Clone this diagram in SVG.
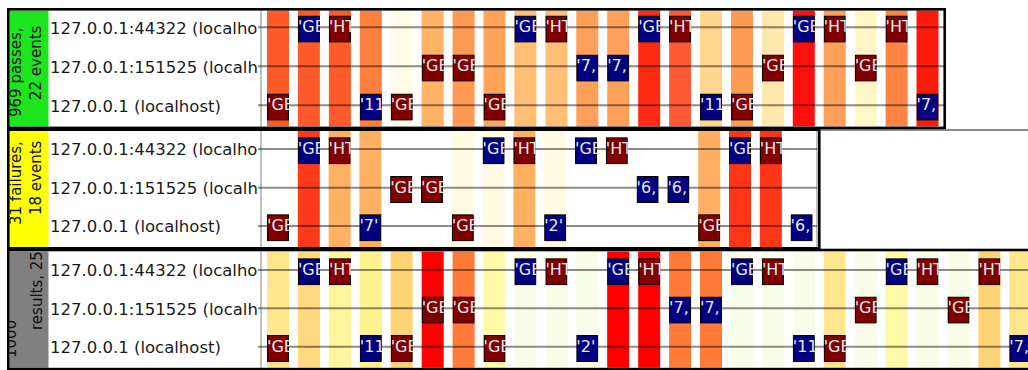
<svg xmlns="http://www.w3.org/2000/svg" xmlns:xlink="http://www.w3.org/1999/xlink" width="1028" height="370" viewBox="0 0 1028 370">
<style>
.frame{fill:none;stroke:#000;stroke-width:2.6}
.axis{stroke:#aaa;stroke-width:1.5}
.lane{stroke:#000;stroke-opacity:.45;stroke-width:2}
.host{font-family:"DejaVu Sans",sans-serif;font-size:16.5px;fill:#1a1a1a}
.side{font-family:"DejaVu Sans",sans-serif;font-size:15px;fill:#111}
.bt{font-family:"DejaVu Sans",sans-serif;font-size:16px;fill:#e8e8ee}
.r{fill:#800000;stroke:#000;stroke-width:1.2}
.b{fill:#000080;stroke:#000;stroke-width:1.2}
</style>
<defs>
<symbol id="ge-r" viewBox="0 0 22 27" width="22" height="27"><rect class="r" x="0.5" y="0.5" width="21" height="26"/><text class="bt" x="0" y="16.6">'GE</text></symbol>
<symbol id="ge-b" viewBox="0 0 22 27" width="22" height="27"><rect class="b" x="0.5" y="0.5" width="21" height="26"/><text class="bt" x="0" y="16.6">'GE</text></symbol>
<symbol id="ht-r" viewBox="0 0 22 27" width="22" height="27"><rect class="r" x="0.5" y="0.5" width="21" height="26"/><text class="bt" x="0" y="16.6">'HT</text></symbol>
<symbol id="n11-b" viewBox="0 0 22 27" width="22" height="27"><rect class="b" x="0.5" y="0.5" width="21" height="26"/><text class="bt" x="0" y="16.6">'11</text></symbol>
<symbol id="n7c-b" viewBox="0 0 22 27" width="22" height="27"><rect class="b" x="0.5" y="0.5" width="21" height="26"/><text class="bt" x="0" y="16.6">'7,</text></symbol>
<symbol id="n7q-b" viewBox="0 0 22 27" width="22" height="27"><rect class="b" x="0.5" y="0.5" width="21" height="26"/><text class="bt" x="0" y="16.6">'7'</text></symbol>
<symbol id="n2-b" viewBox="0 0 22 27" width="22" height="27"><rect class="b" x="0.5" y="0.5" width="21" height="26"/><text class="bt" x="0" y="16.6">'2'</text></symbol>
<symbol id="n6c-b" viewBox="0 0 22 27" width="22" height="27"><rect class="b" x="0.5" y="0.5" width="21" height="26"/><text class="bt" x="0" y="16.6">'6,</text></symbol>
<clipPath id="cb1"><rect x="9.5" y="10.5" width="39" height="116"/></clipPath>
<clipPath id="cb2"><rect x="9.5" y="131" width="39" height="116"/></clipPath>
<clipPath id="cb3"><rect x="9.5" y="251.5" width="39" height="116.3"/></clipPath>
<clipPath id="chost"><rect x="48.5" y="0" width="209.5" height="370"/></clipPath>
</defs>
<rect width="1028" height="370" fill="#fff"/>

<!-- Panel 1 -->
<g id="panel1">
<rect x="9.5" y="10.5" width="39" height="116" fill="#1ee61e"/>
<g clip-path="url(#cb1)" class="side">
<text transform="translate(20.5,117) rotate(-90)">969 passes,</text>
<text transform="translate(41,100) rotate(-90)">22 events</text>
</g>
<g id="p1-stripes">
<rect x="267.0" y="10.5" width="22" height="116" fill="#ff5a2a"/>
<rect x="297.9" y="10.5" width="22" height="116" fill="#ff5a2a"/>
<rect x="328.9" y="10.5" width="22" height="116" fill="#ff5a2a"/>
<rect x="359.8" y="10.5" width="22" height="116" fill="#ff7f3f"/>
<rect x="390.7" y="10.5" width="22" height="116" fill="#fffde8"/>
<rect x="421.7" y="10.5" width="22" height="116" fill="#ffb366"/>
<rect x="452.6" y="10.5" width="22" height="116" fill="#ff9a55"/>
<rect x="483.5" y="10.5" width="22" height="116" fill="#ffa458"/>
<rect x="514.4" y="10.5" width="22" height="116" fill="#ffbf75"/>
<rect x="545.4" y="10.5" width="22" height="116" fill="#ffbf75"/>
<rect x="576.3" y="10.5" width="22" height="116" fill="#ffa05a"/>
<rect x="607.2" y="10.5" width="22" height="116" fill="#ffa05a"/>
<rect x="638.2" y="10.5" width="22" height="116" fill="#ff2a12"/>
<rect x="669.1" y="10.5" width="22" height="116" fill="#ff5a35"/>
<rect x="700.0" y="10.5" width="22" height="116" fill="#ffd68c"/>
<rect x="731.0" y="10.5" width="22" height="116" fill="#ff9a55"/>
<rect x="761.9" y="10.5" width="22" height="116" fill="#ffe8ae"/>
<rect x="792.8" y="10.5" width="22" height="116" fill="#ff0f0f"/>
<rect x="823.7" y="10.5" width="22" height="116" fill="#ffa05a"/>
<rect x="854.7" y="10.5" width="22" height="116" fill="#fff6c8"/>
<rect x="885.6" y="10.5" width="22" height="116" fill="#ff8444"/>
<rect x="916.5" y="10.5" width="22" height="116" fill="#ff1a0a"/>
</g>
</g>

<!-- Panel 2 -->
<g id="panel2">
<rect x="9.5" y="131" width="39" height="116" fill="#ffff00"/>
<g clip-path="url(#cb2)" class="side">
<text transform="translate(20.5,225) rotate(-90)">31 failures,</text>
<text transform="translate(41,215) rotate(-90)">18 events</text>
</g>
<g id="p2-stripes">
<rect x="297.8" y="131" width="22" height="116" fill="#ff3a1a"/>
<rect x="328.6" y="131" width="22" height="116" fill="#ffb060"/>
<rect x="359.4" y="131" width="22" height="116" fill="#ffb060"/>
<rect x="451.8" y="131" width="22" height="116" fill="#fffbe3"/>
<rect x="482.6" y="131" width="22" height="116" fill="#fffbe3"/>
<rect x="513.4" y="131" width="22" height="116" fill="#ffb060"/>
<rect x="544.2" y="131" width="22" height="116" fill="#fffbe3"/>
<rect x="698.2" y="131" width="22" height="116" fill="#ffae62"/>
<rect x="729.0" y="131" width="22" height="116" fill="#ff3518"/>
<rect x="759.8" y="131" width="22" height="116" fill="#ff3518"/>
</g>
</g>

<!-- Panel 3 -->
<g id="panel3">
<rect x="9.5" y="251.5" width="39" height="116.3" fill="#808080"/>
<g clip-path="url(#cb3)" class="side">
<text transform="translate(15.5,358) rotate(-90)">1000</text>
<text transform="translate(41.5,330) rotate(-90)">results, 25</text>
</g>
<g id="p3-stripes">
<rect x="267.0" y="251.5" width="22" height="116.3" fill="#ffe58c"/>
<rect x="297.9" y="251.5" width="22" height="116.3" fill="#ffd880"/>
<rect x="328.9" y="251.5" width="22" height="116.3" fill="#fff59c"/>
<rect x="359.8" y="251.5" width="22" height="116.3" fill="#fff28f"/>
<rect x="390.7" y="251.5" width="22" height="116.3" fill="#ffd474"/>
<rect x="421.7" y="251.5" width="22" height="116.3" fill="#ff0000"/>
<rect x="452.6" y="251.5" width="22" height="116.3" fill="#ff7a38"/>
<rect x="483.5" y="251.5" width="22" height="116.3" fill="#fff9a8"/>
<rect x="514.4" y="251.5" width="22" height="116.3" fill="#f7fde6"/>
<rect x="545.4" y="251.5" width="22" height="116.3" fill="#f7fde6"/>
<rect x="576.3" y="251.5" width="22" height="116.3" fill="#f7fde6"/>
<rect x="607.2" y="251.5" width="22" height="116.3" fill="#ff0000"/>
<rect x="638.2" y="251.5" width="22" height="116.3" fill="#ff0000"/>
<rect x="669.1" y="251.5" width="22" height="116.3" fill="#ff7a38"/>
<rect x="700.0" y="251.5" width="22" height="116.3" fill="#ff7a38"/>
<rect x="731.0" y="251.5" width="22" height="116.3" fill="#f7fde6"/>
<rect x="761.9" y="251.5" width="22" height="116.3" fill="#f7fde6"/>
<rect x="792.8" y="251.5" width="22" height="116.3" fill="#f7fde6"/>
<rect x="823.7" y="251.5" width="22" height="116.3" fill="#ffe58c"/>
<rect x="854.7" y="251.5" width="22" height="116.3" fill="#f7fde6"/>
<rect x="885.6" y="251.5" width="22" height="116.3" fill="#fff8a4"/>
<rect x="916.5" y="251.5" width="22" height="116.3" fill="#f7fde6"/>
<rect x="947.5" y="251.5" width="22" height="116.3" fill="#f7fde6"/>
<rect x="978.4" y="251.5" width="22" height="116.3" fill="#ffd474"/>
<rect x="1009.3" y="251.5" width="22" height="116.3" fill="#ffe58c"/>
</g>
</g>

<!-- host labels -->
<g id="hosts" class="host" clip-path="url(#chost)">
<text x="50" y="33.5">127.0.0.1:44322 (localhost)</text>
<text x="50" y="72.5">127.0.0.1:151525 (localhost)</text>
<text x="50" y="111.5">127.0.0.1 (localhost)</text>
<text x="50" y="155.2">127.0.0.1:44322 (localhost)</text>
<text x="50" y="193.9">127.0.0.1:151525 (localhost)</text>
<text x="50" y="232.2">127.0.0.1 (localhost)</text>
<text x="50" y="276.2">127.0.0.1:44322 (localhost)</text>
<text x="50" y="314.5">127.0.0.1:151525 (localhost)</text>
<text x="50" y="352.9">127.0.0.1 (localhost)</text>
</g>

<!-- axes and lanes -->
<g id="connectors">
<line class="axis" x1="261" y1="10.5" x2="261" y2="126.5"/>
<line class="axis" x1="261" y1="131" x2="261" y2="247"/>
<line class="axis" x1="261" y1="251.5" x2="261" y2="367.8"/>
<line class="axis" x1="817" y1="131" x2="817" y2="247"/>
<line class="lane" x1="258" y1="27.3" x2="944" y2="27.3"/>
<line class="lane" x1="258" y1="66.3" x2="944" y2="66.3"/>
<line class="lane" x1="258" y1="105.3" x2="944" y2="105.3"/>
<line class="lane" x1="258" y1="149" x2="817" y2="149"/>
<line class="lane" x1="258" y1="187.7" x2="817" y2="187.7"/>
<line class="lane" x1="258" y1="226" x2="817" y2="226"/>
<line class="lane" x1="258" y1="270" x2="1028" y2="270"/>
<line class="lane" x1="258" y1="308.3" x2="1028" y2="308.3"/>
<line class="lane" x1="258" y1="346.7" x2="1028" y2="346.7"/>
</g>

<!-- event nodes panel 1 -->
<g id="p1-events">
<use id="p1e0" href="#ge-r" x="267.0" y="93.6"/>
<use id="p1e1" href="#ge-b" x="297.9" y="15.6"/>
<use id="p1e2" href="#ht-r" x="328.9" y="15.6"/>
<use id="p1e3" href="#n11-b" x="359.8" y="93.6"/>
<use id="p1e4" href="#ge-r" x="390.7" y="93.6"/>
<use id="p1e5" href="#ge-r" x="421.7" y="54.6"/>
<use id="p1e6" href="#ge-r" x="452.6" y="54.6"/>
<use id="p1e7" href="#ge-r" x="483.5" y="93.6"/>
<use id="p1e8" href="#ge-b" x="514.4" y="15.6"/>
<use id="p1e9" href="#ht-r" x="545.4" y="15.6"/>
<use id="p1e10" href="#n7c-b" x="576.3" y="54.6"/>
<use id="p1e11" href="#n7c-b" x="607.2" y="54.6"/>
<use id="p1e12" href="#ge-b" x="638.2" y="15.6"/>
<use id="p1e13" href="#ht-r" x="669.1" y="15.6"/>
<use id="p1e14" href="#n11-b" x="700.0" y="93.6"/>
<use id="p1e15" href="#ge-r" x="731.0" y="93.6"/>
<use id="p1e16" href="#ge-r" x="761.9" y="54.6"/>
<use id="p1e17" href="#ge-b" x="792.8" y="15.6"/>
<use id="p1e18" href="#ht-r" x="823.7" y="15.6"/>
<use id="p1e19" href="#ge-r" x="854.7" y="54.6"/>
<use id="p1e20" href="#ht-r" x="885.6" y="15.6"/>
<use id="p1e21" href="#n7c-b" x="916.5" y="93.6"/>
</g>

<!-- event nodes panel 2 -->
<g id="p2-events">
<use id="p2e0" href="#ge-r" x="267.0" y="214.3"/>
<use id="p2e1" href="#ge-b" x="297.8" y="137.3"/>
<use id="p2e2" href="#ht-r" x="328.6" y="137.3"/>
<use id="p2e3" href="#n7q-b" x="359.4" y="214.3"/>
<use id="p2e4" href="#ge-r" x="390.2" y="176"/>
<use id="p2e5" href="#ge-r" x="421.0" y="176"/>
<use id="p2e6" href="#ge-r" x="451.8" y="214.3"/>
<use id="p2e7" href="#ge-b" x="482.6" y="137.3"/>
<use id="p2e8" href="#ht-r" x="513.4" y="137.3"/>
<use id="p2e9" href="#n2-b" x="544.2" y="214.3"/>
<use id="p2e10" href="#ge-b" x="575.0" y="137.3"/>
<use id="p2e11" href="#ht-r" x="605.8" y="137.3"/>
<use id="p2e12" href="#n6c-b" x="636.6" y="176"/>
<use id="p2e13" href="#n6c-b" x="667.4" y="176"/>
<use id="p2e14" href="#ge-r" x="698.2" y="214.3"/>
<use id="p2e15" href="#ge-b" x="729.0" y="137.3"/>
<use id="p2e16" href="#ht-r" x="759.8" y="137.3"/>
<use id="p2e17" href="#n6c-b" x="790.6" y="214.3"/>
</g>

<!-- event nodes panel 3 -->
<g id="p3-events">
<use id="p3e0" href="#ge-r" x="267.0" y="335"/>
<use id="p3e1" href="#ge-b" x="297.9" y="258.3"/>
<use id="p3e2" href="#ht-r" x="328.9" y="258.3"/>
<use id="p3e3" href="#n11-b" x="359.8" y="335"/>
<use id="p3e4" href="#ge-r" x="390.7" y="335"/>
<use id="p3e5" href="#ge-r" x="421.7" y="296.6"/>
<use id="p3e6" href="#ge-r" x="452.6" y="296.6"/>
<use id="p3e7" href="#ge-r" x="483.5" y="335"/>
<use id="p3e8" href="#ge-b" x="514.4" y="258.3"/>
<use id="p3e9" href="#ht-r" x="545.4" y="258.3"/>
<use id="p3e10" href="#n2-b" x="576.3" y="335"/>
<use id="p3e11" href="#ge-b" x="607.2" y="258.3"/>
<use id="p3e12" href="#ht-r" x="638.2" y="258.3"/>
<use id="p3e13" href="#n7c-b" x="669.1" y="296.6"/>
<use id="p3e14" href="#n7c-b" x="700.0" y="296.6"/>
<use id="p3e15" href="#ge-b" x="731.0" y="258.3"/>
<use id="p3e16" href="#ht-r" x="761.9" y="258.3"/>
<use id="p3e17" href="#n11-b" x="792.8" y="335"/>
<use id="p3e18" href="#ge-r" x="823.7" y="335"/>
<use id="p3e19" href="#ge-r" x="854.7" y="296.6"/>
<use id="p3e20" href="#ge-b" x="885.6" y="258.3"/>
<use id="p3e21" href="#ht-r" x="916.5" y="258.3"/>
<use id="p3e22" href="#ge-r" x="947.5" y="296.6"/>
<use id="p3e23" href="#ht-r" x="978.4" y="258.3"/>
<use id="p3e24" href="#n7c-b" x="1009.3" y="335"/>
</g>

<!-- frames -->
<g id="frames">
<line x1="820" y1="130" x2="1028" y2="130" stroke="#666" stroke-width="1.5"/>
<rect class="frame" x="8.3" y="9.3" width="936.4" height="118.6"/>
<rect class="frame" x="8.3" y="129.7" width="811" height="118.6"/>
<rect class="frame" x="8.3" y="250" width="1030" height="119.1"/>
</g>
</svg>
